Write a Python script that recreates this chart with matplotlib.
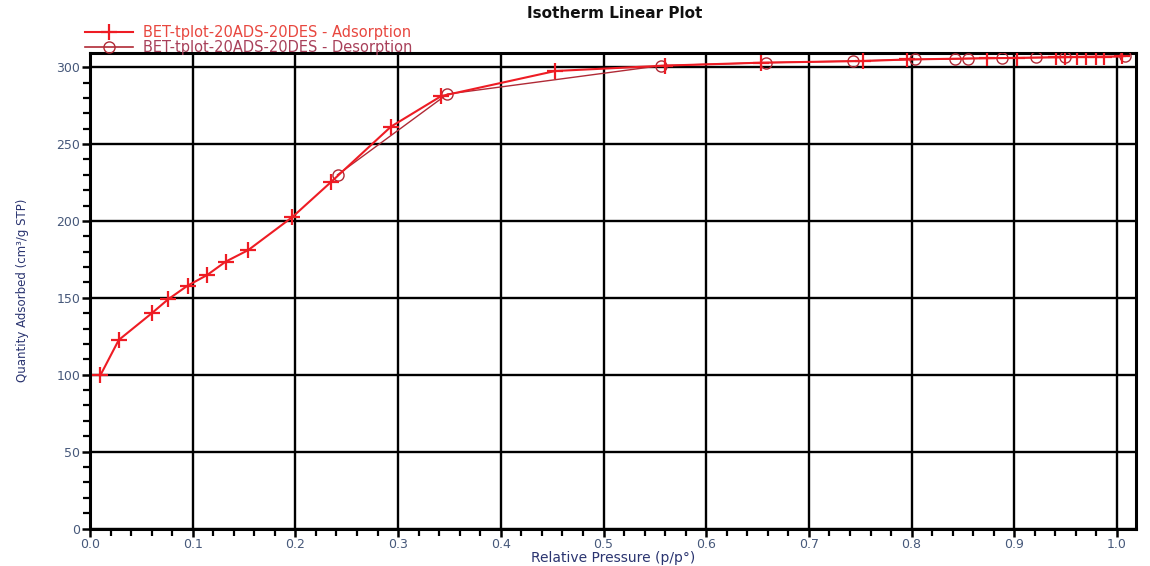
import matplotlib
matplotlib.use("Agg")
import matplotlib.pyplot as plt
from matplotlib.ticker import MultipleLocator, FormatStrFormatter
from matplotlib.lines import Line2D

plt.rcParams['font.family'] = ['DejaVu Sans']

# Adsorption branch
ads_p = [0.010, 0.028, 0.060, 0.076, 0.095, 0.114, 0.132, 0.154, 0.197, 0.235,
         0.293, 0.342, 0.453, 0.560, 0.653, 0.753, 0.796, 0.873, 0.903, 0.941,
         0.949, 0.961, 0.970, 0.980, 0.987, 1.005]
ads_q = [99.5, 122.6, 139.9, 149.0, 157.9, 164.8, 173.5, 181.0, 202.5, 225.5,
         261.3, 281.2, 297.5, 301.0, 302.9, 304.0, 305.0, 305.8, 306.0, 306.4,
         306.5, 306.6, 306.7, 306.8, 306.8, 307.0]
# Desorption branch
des_p = [1.008, 0.949, 0.921, 0.888, 0.855, 0.842, 0.803, 0.743, 0.658, 0.556,
         0.348, 0.241]
des_q = [307.0, 306.5, 306.3, 306.0, 305.6, 305.3, 305.0, 304.0, 302.9, 301.0,
         282.5, 230.0]

title = "Isotherm Linear Plot"
xlabel = "Relative Pressure (p/p°)"
ylabel = "Quantity Adsorbed (cm³/g STP)"
ads_label = "BET-tplot-20ADS-20DES - Adsorption"
des_label = "BET-tplot-20ADS-20DES - Desorption"

ads_color = '#EE1C24'
des_color = '#B02A36'
tick_color = '#46587A'
label_color = '#2A3470'

fig = plt.figure(figsize=(11.5, 5.66), dpi=100)
ax = fig.add_axes([90/1150, 1 - 528.5/566, 1046/1150, (528.5 - 52.7)/566])

ax.plot(des_p, des_q, color=des_color, lw=1.0, marker='o', ms=8, mfc='none',
        mec=des_color, mew=1.0, zorder=3)
ax.plot(ads_p, ads_q, color=ads_color, lw=1.5, marker='+', ms=12, mew=1.6,
        zorder=4)

ax.set_xlim(0, 1.0185)
ax.set_ylim(0, 309.4)
ax.xaxis.set_major_locator(MultipleLocator(0.1))
ax.xaxis.set_minor_locator(MultipleLocator(0.02))
ax.yaxis.set_major_locator(MultipleLocator(50))
ax.yaxis.set_minor_locator(MultipleLocator(10))
ax.xaxis.set_major_formatter(FormatStrFormatter('%.1f'))
ax.yaxis.set_major_formatter(FormatStrFormatter('%d'))

ax.grid(True, which='major', color='black', lw=1.7, zorder=1)
ax.set_axisbelow(True)
for s in ax.spines.values():
    s.set_linewidth(2.2)
    s.set_color('black')
ax.tick_params(which='major', direction='out', length=6, width=1.8,
               labelsize=9, labelcolor=tick_color, pad=1)
ax.tick_params(which='minor', direction='out', length=5, width=1.6)

ax.set_xlabel(xlabel, fontsize=10, color=label_color)
ax.xaxis.set_label_coords(0.5, -0.047)
ax.set_ylabel(ylabel, fontsize=8.5, color=label_color)
ax.yaxis.set_label_coords(-0.058, 0.5)

fig.text(615/1150, 1 - 14/566, title, ha='center', va='center',
         fontsize=11, fontweight='bold', color='#111111')

handles = [Line2D([], [], color=ads_color, lw=1.5, marker='+', ms=12, mew=1.6),
           Line2D([], [], color=des_color, lw=1.2, marker='o', ms=8, mfc='none',
                  mec=des_color)]
leg = fig.legend(handles, [ads_label, des_label], loc='upper left',
                 bbox_to_anchor=(85/1150, 1 - 25/566), frameon=False,
                 fontsize=10.5, handlelength=3.3, handletextpad=0.7,
                 labelspacing=0.0, borderpad=0, borderaxespad=0)
leg.get_texts()[0].set_color('#E8473F')
leg.get_texts()[1].set_color('#A8405A')

fig.savefig('out.png', dpi=100)
